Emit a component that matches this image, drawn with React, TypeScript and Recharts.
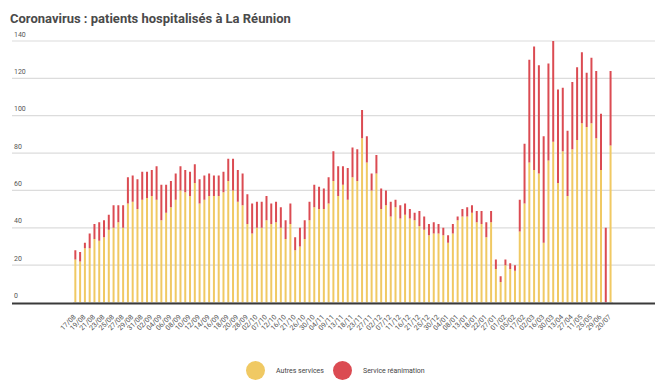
import { BarChart, Bar, XAxis, YAxis, CartesianGrid } from "recharts"

const dates = [
  "17/08", "18/08", "19/08", "20/08", "21/08", "22/08", "23/08", "24/08", "25/08", "26/08",
  "27/08", "28/08", "29/08", "30/08", "31/08", "01/09", "02/09", "03/09", "04/09", "05/09",
  "06/09", "07/09", "08/09", "09/09", "10/09", "11/09", "12/09", "13/09", "14/09", "15/09",
  "16/09", "17/09", "18/09", "19/09", "20/09", "24/09", "28/09", "30/09", "02/10", "05/10",
  "07/10", "09/10", "12/10", "14/10", "16/10", "19/10", "21/10", "23/10", "26/10", "28/10",
  "30/10", "02/11", "04/11", "06/11", "09/11", "11/11", "13/11", "16/11", "18/11", "20/11",
  "23/11", "25/11", "27/11", "30/11", "02/12", "04/12", "07/12", "09/12", "11/12", "14/12",
  "16/12", "18/12", "21/12", "23/12", "25/12", "28/12", "30/12", "01/01", "04/01", "06/01",
  "08/01", "11/01", "13/01", "15/01", "18/01", "20/01", "22/01", "25/01", "27/01", "29/01",
  "01/02", "03/02", "05/02", "10/02", "17/02", "24/02", "02/03", "09/03", "16/03", "23/03",
  "30/03", "06/04", "13/04", "20/04", "27/04", "04/05", "11/05", "18/05", "25/05", "08/06",
  "29/06", "13/07", "20/07",
]

const autres = [
  23, 22, 29, 29, 34, 33, 35, 39, 40, 43,
  40, 53, 54, 50, 55, 56, 57, 55, 44, 48,
  51, 55, 60, 59, 57, 64, 53, 55, 57, 57,
  57, 59, 65, 60, 54, 52, 42, 37, 40, 40,
  44, 42, 43, 40, 34, 42, 28, 30, 34, 44,
  51, 50, 50, 53, 65, 57, 63, 55, 67, 65,
  88, 75, 60, 69, 50, 52, 46, 51, 45, 47,
  45, 44, 41, 39, 36, 37, 37, 36, 32, 37,
  44, 46, 46, 48, 43, 42, 35, 43, 18, 11,
  20, 18, 17, 38, 53, 75, 71, 69, 32, 76,
  86, 64, 81, 57, 82, 87, 96, 94, 96, 88,
  71, 0, 84,
]

const reanimation = [
  5, 5, 3, 8, 8, 10, 9, 8, 12, 9,
  12, 14, 14, 16, 15, 14, 14, 18, 19, 15,
  14, 14, 13, 12, 13, 10, 13, 13, 12, 11,
  11, 11, 12, 17, 17, 17, 16, 16, 14, 14,
  13, 11, 11, 11, 10, 11, 7, 10, 10, 10,
  12, 12, 11, 14, 16, 16, 10, 17, 16, 17,
  15, 14, 9, 10, 11, 8, 8, 4, 7, 6,
  5, 4, 8, 7, 6, 6, 5, 4, 4, 5,
  2, 4, 5, 4, 6, 7, 8, 6, 5, 3,
  3, 3, 3, 17, 32, 55, 66, 58, 57, 52,
  54, 50, 34, 35, 36, 39, 38, 29, 35, 36,
  30, 40, 40,
]

const yTicks = [0, 20, 40, 60, 80, 100, 120, 140]

const series = [
  { key: "autres", name: "Autres services", color: "#f0c963" },
  { key: "reanimation", name: "Service réanimation", color: "#db4b52" },
]

const data = dates.map((d, i) => ({ date: d, autres: autres[i], reanimation: reanimation[i] }))

const W = 668
const H = 384
const PLOT_LEFT = 73
const PLOT_RIGHT = 613
const FONT = "Roboto, 'Noto Sans', sans-serif"

function YTick(props: any) {
  const { y, payload } = props
  const zero = payload.value === 0
  return (
    <g>
      {zero ? (
        <line x1={12} x2={655} y1={y + 1} y2={y + 1} stroke="#3a3a3a" strokeWidth={2} />
      ) : (
        <>
          <line x1={12} x2={PLOT_LEFT} y1={y} y2={y} stroke="#dcdcdc" strokeWidth={1.2} />
          <line x1={PLOT_RIGHT} x2={655} y1={y} y2={y} stroke="#dcdcdc" strokeWidth={1.2} />
        </>
      )}
      <text x={14} y={y - 4.5} fontSize={7} fill="#555" fontFamily={FONT}>
        {payload.value}
      </text>
    </g>
  )
}

function XTick(props: any) {
  const { x, y, payload } = props
  const tx = x + 1
  const ty = y + 13
  return (
    <text
      x={tx}
      y={ty}
      transform={`rotate(-45 ${tx} ${ty})`}
      textAnchor="end"
      fontSize={7}
      fill="#555"
      fontFamily={FONT}
    >
      {payload.value}
    </text>
  )
}

export default function App() {
  return (
    <div style={{ position: "absolute", left: 0, top: 0, width: W, height: H, background: "#fff", fontFamily: FONT }}>
      <div
        style={{
          position: "absolute",
          left: 10,
          top: 11,
          fontSize: 13,
          fontWeight: 700,
          color: "#4a4a4a",
          whiteSpace: "nowrap",
        }}
      >
        Coronavirus : patients hospitalisés à La Réunion
      </div>
      <BarChart
        width={W}
        height={H}
        data={data}
        margin={{ top: 41, right: W - PLOT_RIGHT, bottom: 0, left: 0 }}
        barCategoryGap="28%"
      >
        <CartesianGrid vertical={false} stroke="#dcdcdc" strokeWidth={1.2} />
        <XAxis
          dataKey="date"
          interval={1}
          height={81.5}
          axisLine={false}
          tickLine={false}
          tickSize={0}
          tick={<XTick />}
        />
        <YAxis
          width={PLOT_LEFT}
          domain={[0, 140]}
          ticks={yTicks}
          axisLine={false}
          tickLine={false}
          tick={<YTick />}
          allowDataOverflow
        />
        {series.map((s) => (
          <Bar key={s.key} dataKey={s.key} name={s.name} stackId="a" fill={s.color} isAnimationActive={false} />
        ))}
      </BarChart>
      {series.map((s, i) => (
        <div
          key={s.key}
          style={{
            position: "absolute",
            left: i === 0 ? 246 : 333,
            top: 361,
            display: "flex",
            alignItems: "center",
            fontSize: 7,
            color: "#444",
          }}
        >
          <span
            style={{
              display: "inline-block",
              width: 19,
              height: 19,
              borderRadius: "50%",
              background: s.color,
              marginRight: 11,
            }}
          />
          {s.name}
        </div>
      ))}
    </div>
  )
}
